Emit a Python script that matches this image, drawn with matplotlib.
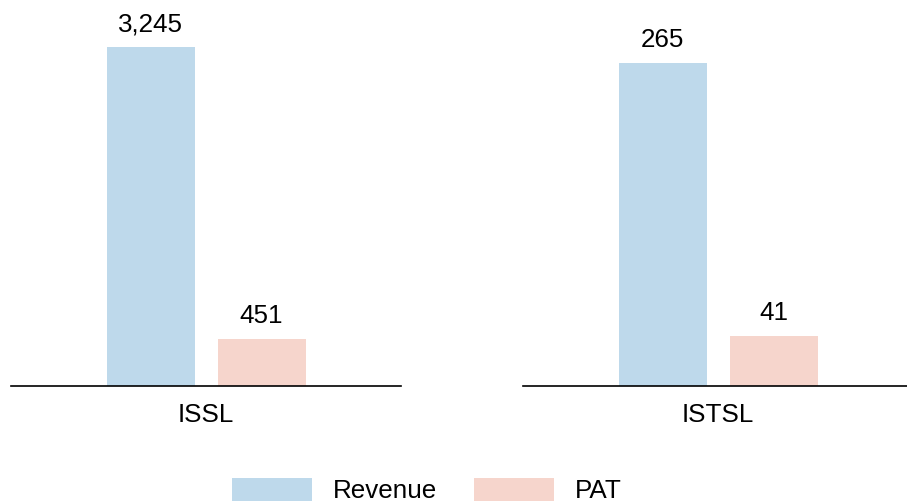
import numpy as np
import matplotlib
matplotlib.use("Agg")
import matplotlib.pyplot as plt

# --- Data ---
companies = ["ISSL", "ISTSL"]
revenue = [3245, 265]
pat = [451, 41]
series_names = ["Revenue", "PAT"]
colors = ["#bed9eb", "#f6d5cc"]
y_tops = [3695, 316.7]

plt.rcParams["font.family"] = ["Liberation Sans", "DejaVu Sans"]
fs = 18.7

fig = plt.figure(figsize=(9.07, 5.04), dpi=100)
ax_rects = [[11 / 907, 118 / 504, 390 / 907, 386 / 504],
            [523 / 907, 118 / 504, 384 / 907, 386 / 504]]

bar_w = 88 / 390
off = 55.5 / 390

handles = []
for i, name in enumerate(companies):
    ax = fig.add_axes(ax_rects[i])
    x = np.arange(1)
    vals = [revenue[i], pat[i]]
    for j, v in enumerate(vals):
        b = ax.bar(x + (j * 2 - 1) * off, [v], width=bar_w, color=colors[j],
                   label=series_names[j], zorder=2)
        if i == 0:
            handles.append(b)
        ax.annotate(f"{v:,}", (x[0] + (j * 2 - 1) * off, v), xytext=(0, 11.5),
                    textcoords="offset points", ha="center", va="baseline",
                    fontsize=fs, color="black")
    width_units = ax_rects[i][2] * 907 / 390
    ax.set_xlim(-0.5, -0.5 + width_units)
    ax.set_ylim(0, y_tops[i])
    ax.set_xticks([0])
    ax.set_xticklabels([name], fontsize=fs, color="black")
    ax.tick_params(axis="x", length=0, pad=12)
    ax.set_yticks([])
    for s in ["top", "left", "right"]:
        ax.spines[s].set_visible(False)
    ax.spines["bottom"].set_linewidth(1.2)
    ax.spines["bottom"].set_color("black")
    ax.spines["bottom"].set_zorder(3)

fig.legend(handles, series_names, loc="upper center", bbox_to_anchor=(0.4705, 0.052),
           ncol=2, frameon=False, fontsize=fs, handlelength=3.1, handleheight=1.0,
           handletextpad=0.8, columnspacing=1.4, borderpad=0, borderaxespad=0)

fig.savefig("out.png", dpi=100)
